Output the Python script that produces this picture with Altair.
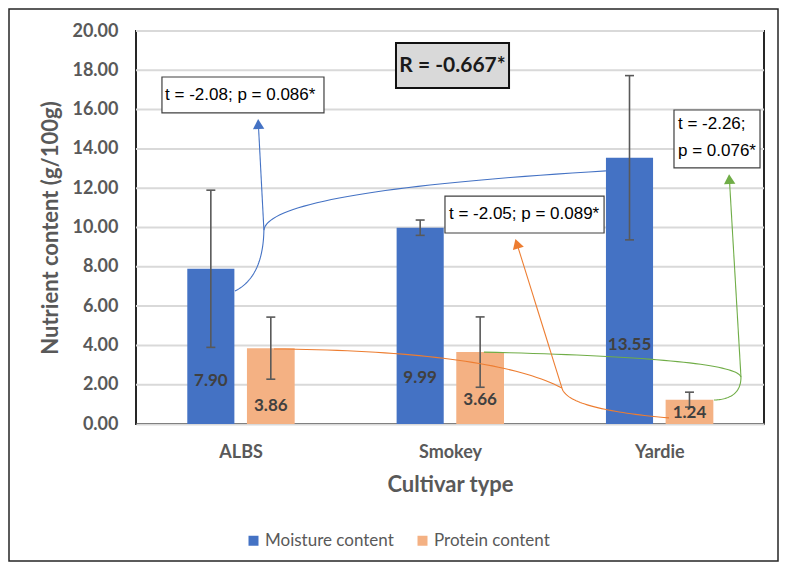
import altair as alt
import pandas as pd
import numpy as np

# ---------------- data ----------------
cultivars = ["ALBS", "Smokey", "Yardie"]
series = ["Moisture content", "Protein content"]
moisture = [7.90, 9.99, 13.55]
protein = [3.86, 3.66, 1.24]
moisture_sd = [4.00, 0.39, 4.18]
protein_sd = [1.58, 1.79, 0.38]
moisture_label_y = [2.19, 2.34, 4.02]
protein_label_y = [0.92, 1.22, 0.56]
bar_colors = ["#4472C4", "#F4B183"]
y_ticks = [0, 2, 4, 6, 8, 10, 12, 14, 16, 18, 20]

# annotation texts
r_text = "R = -0.667*"
t_texts = ["t = -2.08; p = 0.086*", "t = -2.05; p = 0.089*", "t = -2.26;", "p = 0.076*"]

# annotation geometry in data units (x: category bands 0..3, y: g/100g)
# each connector: start, control1, junction, control2, end, arrow tip
connectors = {
    "#4472C4": [(0.473, 6.77), (0.607, 7.48), (0.611, 9.87), (0.635, 11.86), (2.245, 12.88), (0.583, 15.57)],
    "#ED7D31": [(0.659, 3.82), (1.696, 3.72), (2.035, 1.83), (2.059, 0.76), (2.546, 0.31), (1.811, 9.47)],
    "#70AD47": [(1.662, 3.66), (2.866, 3.36), (2.890, 2.39), (2.890, 1.27), (2.761, 1.22), (2.833, 12.77)],
}
# boxes: x0, x1, y0, y1
t_boxes = [(0.124, 0.898, 15.83, 17.66), (1.476, 2.236, 9.72, 11.60), (2.570, 2.981, 13.03, 15.98)]
t_text_pos = [(0.139, 16.74), (1.495, 10.70), (2.589, 15.27), (2.589, 13.89)]
r_box = (1.242, 1.782, 17.10, 19.39)
r_text_pos = (1.512, 18.24)

W, H = 628, 393
PX_X = W / 3.0
PX_Y = H / 20.0

# ---------------- tables ----------------
rows = []
for i, c in enumerate(cultivars):
    center = i + 0.5
    rows.append(dict(cultivar=c, series=series[0], value=moisture[i], sd=moisture_sd[i],
                     x0=center - 0.255, x1=center - 0.030, xc=center - 0.1425,
                     label_y=moisture_label_y[i], label=f"{moisture[i]:.2f}"))
    rows.append(dict(cultivar=c, series=series[1], value=protein[i], sd=protein_sd[i],
                     x0=center + 0.030, x1=center + 0.258, xc=center + 0.144,
                     label_y=protein_label_y[i], label=f"{protein[i]:.2f}"))
bars_df = pd.DataFrame(rows)
bars_df["lo"] = bars_df["value"] - bars_df["sd"]
bars_df["hi"] = bars_df["value"] + bars_df["sd"]

cap_half = 4.5 / PX_X
caps = []
for _, r in bars_df.iterrows():
    for yv in (r["lo"], r["hi"]):
        caps.append(dict(xa=r["xc"] - cap_half, xb=r["xc"] + cap_half, y=yv))
caps_df = pd.DataFrame(caps)


def quad(p0, c, p1, n=40):
    t = np.linspace(0, 1, n)
    x = (1 - t) ** 2 * p0[0] + 2 * t * (1 - t) * c[0] + t ** 2 * p1[0]
    y = (1 - t) ** 2 * p0[1] + 2 * t * (1 - t) * c[1] + t ** 2 * p1[1]
    return x, y


curve_rows, shaft_rows, head_rows = [], [], []
for col, (p0, c1, j, c2, e, tip) in connectors.items():
    for seg, (a, c, b) in enumerate([(p0, c1, j), (j, c2, e)]):
        xs, ys = quad(a, c, b)
        for k, (xv, yv) in enumerate(zip(xs, ys)):
            curve_rows.append(dict(col=col, seg=f"{col}-{seg}", i=k, x=xv, y=yv))
    # arrow direction in pixel space
    dxp = (tip[0] - j[0]) * PX_X
    dyp = (tip[1] - j[1]) * PX_Y
    L = np.hypot(dxp, dyp)
    ux, uy = dxp / L, dyp / L
    cx = tip[0] - ux * 6 / PX_X
    cy = tip[1] - uy * 6 / PX_Y
    ang = (np.degrees(np.arctan2(ux, uy))) % 360
    shaft_rows.append(dict(col=col, x=j[0], y=j[1], x2=cx, y2=cy))
    head_rows.append(dict(col=col, x=cx, y=cy, angle=ang))
curves_df = pd.DataFrame(curve_rows)
shafts_df = pd.DataFrame(shaft_rows)
heads_df = pd.DataFrame(head_rows)

tbox_df = pd.DataFrame([dict(x0=b[0], x1=b[1], y0=b[2], y1=b[3]) for b in t_boxes])
ttext_df = pd.DataFrame([dict(x=p[0], y=p[1], text=t) for p, t in zip(t_text_pos, t_texts)])
rbox_df = pd.DataFrame([dict(x0=r_box[0], x1=r_box[1], y0=r_box[2], y1=r_box[3],
                             x=r_text_pos[0], y=r_text_pos[1], text=r_text)])
grid_df = pd.DataFrame({"tick": y_ticks[1:]})

# ---------------- scales / axes ----------------
label_expr = " : ".join(
    [f"datum.value == {i + 0.5} ? '{c}'" for i, c in enumerate(cultivars[:-1])]
) + f" : '{cultivars[-1]}'"

xscale = alt.Scale(domain=[0, 3], nice=False, zero=False)
yscale = alt.Scale(domain=[0, 20], nice=False)

xaxis = alt.Axis(values=[i + 0.5 for i in range(len(cultivars))], labelExpr=label_expr,
                 ticks=False, grid=False, domainColor="#d9d9d9", domainWidth=2,
                 labelFont="Lato", labelFontWeight="bold", labelFontSize=18, labelColor="#595959",
                 labelPadding=19, title="Cultivar type", titleFont="Lato", titleFontSize=22,
                 titleFontWeight="bold", titleColor="#595959", titlePadding=13)
yaxis = alt.Axis(values=y_ticks, tickCount=len(y_ticks) + 1, format=".2f", ticks=False,
                 tickSize=0, domain=False, grid=False,
                 labelOverlap=False, labelBound=False,
                 labelFont="Lato", labelFontWeight="bold", labelFontSize=18, labelColor="#595959",
                 labelPadding=18, title="Nutrient content (g/100g)", titleFont="Lato",
                 titleFontSize=22, titleFontWeight="bold", titleColor="#595959", titlePadding=9)

# ---------------- layers ----------------
gridlines = alt.Chart(grid_df).mark_rule(color="#d9d9d9", strokeWidth=2).encode(
    y=alt.Y("tick:Q", scale=yscale, axis=yaxis), x=alt.value(0), x2=alt.value(W))

bars = alt.Chart(bars_df).mark_bar().encode(
    x=alt.X("x0:Q", scale=xscale, axis=xaxis),
    x2="x1:Q",
    y=alt.Y("value:Q", scale=yscale, axis=yaxis),
    y2=alt.datum(0),
    color=alt.Color("series:N", scale=alt.Scale(domain=series, range=bar_colors),
                    legend=alt.Legend(title=None, orient="none", legendX=109, legendY=501,
                                      direction="horizontal", symbolType="square", symbolSize=100,
                                      symbolStrokeWidth=0, labelFont="Lato", labelFontSize=17,
                                      labelColor="#595959", labelOffset=3, columnPadding=20)),
)

err = alt.Chart(bars_df).mark_rule(color="#595959", strokeWidth=1.6).encode(
    x="xc:Q", y="lo:Q", y2="hi:Q")
capm = alt.Chart(caps_df).mark_rule(color="#595959", strokeWidth=1.6).encode(
    x="xa:Q", x2="xb:Q", y="y:Q")

labels = alt.Chart(bars_df).mark_text(font="Lato", fontWeight="bold", fontSize=17,
                                      color="#404040", baseline="middle").encode(
    x="xc:Q", y="label_y:Q", text="label:N")

curves = alt.Chart(curves_df).mark_line(strokeWidth=1.1).encode(
    x="x:Q", y="y:Q", order="i:Q", detail="seg:N", stroke=alt.Stroke("col:N", scale=None))
shafts = alt.Chart(shafts_df).mark_rule(strokeWidth=1.1).encode(
    x="x:Q", y="y:Q", x2="x2:Q", y2="y2:Q", stroke=alt.Stroke("col:N", scale=None))
heads = alt.Chart(heads_df).mark_point(shape="triangle-up", size=130, filled=True, opacity=1,
                                       strokeWidth=0).encode(
    x="x:Q", y="y:Q", angle=alt.Angle("angle:Q", scale=None), fill=alt.Fill("col:N", scale=None))

tboxes = alt.Chart(tbox_df).mark_rect(fill="white", stroke="#404040", strokeWidth=1.2).encode(
    x="x0:Q", x2="x1:Q", y="y0:Q", y2="y1:Q")
ttexts = alt.Chart(ttext_df).mark_text(align="left", baseline="middle", font="Liberation Sans",
                                       fontSize=17, color="#000000").encode(
    x="x:Q", y="y:Q", text="text:N")
rbox = alt.Chart(rbox_df).mark_rect(fill="#d9d9d9", stroke="#111111", strokeWidth=2).encode(
    x="x0:Q", x2="x1:Q", y="y0:Q", y2="y1:Q")
rtext = alt.Chart(rbox_df).mark_text(align="center", baseline="middle", font="Lato",
                                     fontWeight="bold", fontSize=21, color="#1a1a1a").encode(
    x="x:Q", y="y:Q", text="text:N")

border = alt.Chart(pd.DataFrame([{"k": 1}])).mark_rect(fill=None, stroke="#262626",
                                                         strokeWidth=1.5).encode(
    x=alt.value(-127), x2=alt.value(642), y=alt.value(-22), y2=alt.value(530))

chart = alt.layer(gridlines, bars, err, capm, labels, curves, shafts, heads, tboxes, ttexts,
                  rbox, rtext, border).properties(
    width=W, height=H, padding=0, background="white"
).configure_view(stroke="#262626", strokeWidth=2).configure_axisY(labelOverlap=False)

chart.save("out.html", embed_options={"renderer": "svg", "actions": False})
